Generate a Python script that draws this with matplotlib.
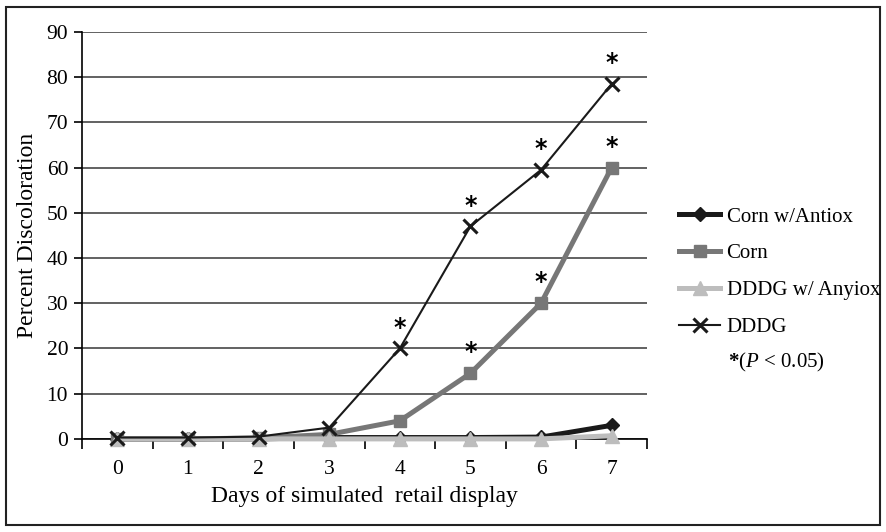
import matplotlib.pyplot as plt
from matplotlib.patches import Rectangle

plt.rcParams['font.family'] = ['Liberation Serif', 'DejaVu Serif']
plt.rcParams['mathtext.fontset'] = 'custom'
plt.rcParams['mathtext.rm'] = 'Liberation Serif'
plt.rcParams['mathtext.it'] = 'Liberation Serif:italic'
plt.rcParams['mathtext.bf'] = 'Liberation Serif:bold'

days = [0, 1, 2, 3, 4, 5, 6, 7]
corn_antiox = [0.0, 0.0, 0.0, 0.3, 0.3, 0.3, 0.4, 3.0]
corn = [0.0, 0.0, 0.2, 1.0, 4.0, 14.5, 30.0, 60.0]
dddg_antiox = [0.0, 0.0, 0.0, 0.0, 0.0, 0.0, 0.0, 0.7]
dddg = [0.3, 0.3, 0.5, 2.5, 20.0, 47.0, 59.5, 78.5]

# significant points (day index)
sig_dddg = [4, 5, 6, 7]
sig_corn = [5, 6, 7]

fig = plt.figure(figsize=(8.86, 5.32), dpi=100)
ax = fig.add_axes([0.0926, 0.175, 0.6376, 0.765])

ax.plot(days, corn_antiox, color='#1a1a1a', lw=3.6, marker='D', ms=7,
        label='Corn w/Antiox', zorder=3, clip_on=False)
ax.plot(days, corn, color='#777777', lw=3.6, marker='s', ms=8,
        label='Corn', zorder=4, clip_on=False)
ax.plot(days, dddg_antiox, color='#bdbdbd', lw=3.6, marker='^', ms=10,
        label='DDDG w/ Anyiox', zorder=5, clip_on=False)
ax.plot(days, dddg, color='#1a1a1a', lw=1.5, marker='x', ms=10, mew=2.2,
        label='DDDG', zorder=6, clip_on=False)

for d in sig_dddg:
    ax.annotate('*', (d, dddg[d]), xytext=(0, 15), textcoords='offset points',
                ha='center', va='center', fontsize=17, fontweight='bold',
                family='DejaVu Sans')
for d in sig_corn:
    ax.annotate('*', (d, corn[d]), xytext=(0, 15), textcoords='offset points',
                ha='center', va='center', fontsize=17, fontweight='bold',
                family='DejaVu Sans')

ax.set_xlim(-0.5, 7.5)
ax.set_ylim(0, 90)
ax.set_yticks(range(0, 91, 10))
ax.set_xticks(days)
ax.set_xticks([d + 0.5 for d in [-1] + days], minor=True)
ax.tick_params(axis='x', which='major', length=0, pad=15, labelsize=15.5)
ax.tick_params(axis='x', which='minor', length=7, width=1.2, direction='out')
ax.tick_params(axis='y', length=6, width=1.2, labelsize=15.5, pad=4)
ax.grid(axis='y', color='#555555', lw=1.3)
ax.set_axisbelow(True)
for s in ['top', 'right']:
    ax.spines[s].set_visible(False)
for s in ['left', 'bottom']:
    ax.spines[s].set_linewidth(1.2)
    ax.spines[s].set_zorder(2)

ax.set_xlabel('Days of simulated  retail display', fontsize=17, labelpad=5)
ax.set_ylabel('Percent Discoloration', fontsize=17, labelpad=6)

fig.legend(*ax.get_legend_handles_labels(), loc='upper left',
           bbox_to_anchor=(0.766, 0.611), frameon=False, borderpad=0,
           fontsize=15, handlelength=2.0, labelspacing=0.83,
           handletextpad=0.3, borderaxespad=0)

fig.text(0.822, 0.3195, r'$\mathbf{*}$($\mathit{P}$ < 0.05)', fontsize=15,
         ha='left', va='center')

fig.patches.append(Rectangle((0.007, 0.013), 0.986, 0.974, transform=fig.transFigure,
                             fill=False, ec='#222222', lw=1.5))

fig.savefig('out.png', dpi=100)
